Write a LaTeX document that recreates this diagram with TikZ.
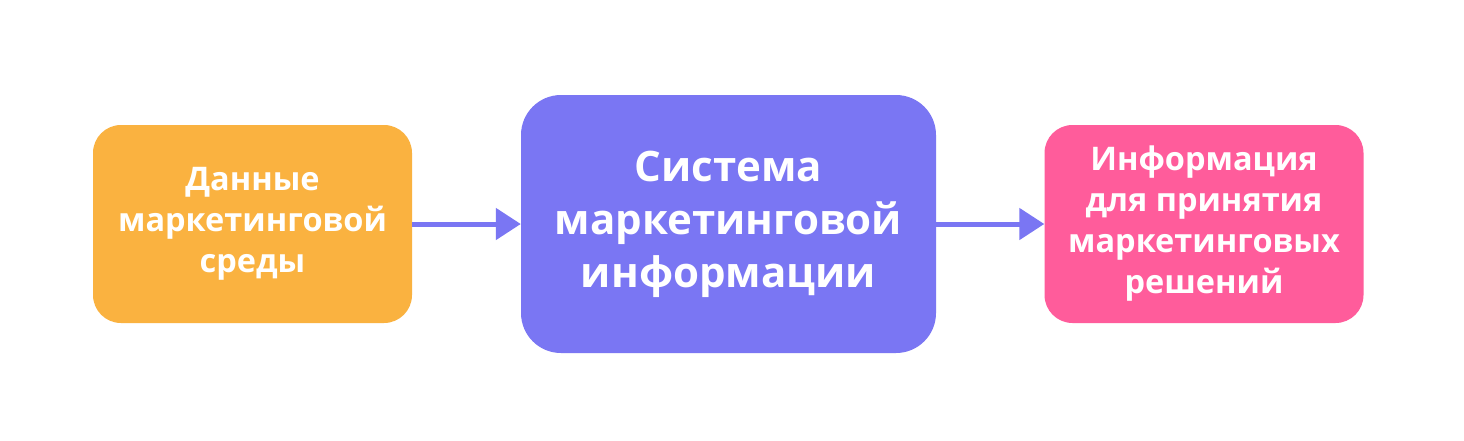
\documentclass[tikz,border=0pt]{standalone}
\usepackage{fontspec}
\setmainfont{Open Sans}
\usetikzlibrary{arrows.meta}
\definecolor{boxorange}{RGB}{250,178,64}
\definecolor{boxpurple}{RGB}{122,118,243}
\definecolor{boxpink}{RGB}{255,92,155}
\tikzset{
  boxbase/.style={rounded corners=28pt, inner sep=0pt, align=center, text=white,
    font={\bfseries\fontsize{32.5}{41}\selectfont}},
  sidebox/.style={boxbase, minimum width=319pt, minimum height=198pt},
  mainbox/.style={boxbase, rounded corners=40pt, minimum width=415pt, minimum height=258pt,
    font={\bfseries\fontsize{42}{53}\selectfont}},
  flow/.style={draw=boxpurple, line width=5pt, -{Triangle[length=25pt,width=31pt]}}
}
\begin{document}
\begin{tikzpicture}[x=1pt,y=-1pt]
\useasboundingbox (0,0) rectangle (1464,440);
\fill[white] (0,0) rectangle (1464,440);
\node[sidebox, fill=boxorange] (a) at (252.5,224) {Данные\\маркетинговой\\среды};
\node[mainbox, fill=boxpurple] (b) at (728.5,224) {Система\\маркетинговой\\информации};
\node[sidebox, fill=boxpink] (c) at (1204,224) {Информация\\для принятия\\маркетинговых\\решений};
\draw[flow] (a.east) -- (b.west);
\draw[flow] (b.east) -- (c.west);
\end{tikzpicture}
\end{document}
